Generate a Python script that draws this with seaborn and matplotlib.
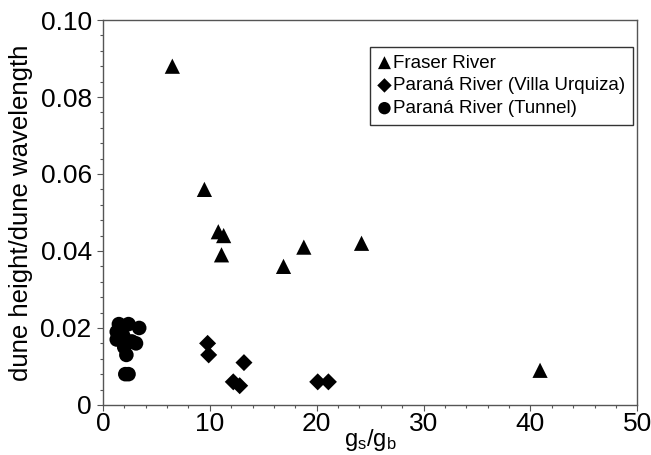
import numpy as np
import pandas as pd
import seaborn as sns
import matplotlib.pyplot as plt
import matplotlib.ticker as mticker

# values
fraser_x = [6.5, 9.5, 10.8, 11.3, 11.1, 16.9, 18.8, 24.2, 40.9]
fraser_y = [0.088, 0.056, 0.045, 0.044, 0.039, 0.036, 0.041, 0.042, 0.009]

villa_x = [9.8, 9.9, 13.2, 12.2, 12.8, 20.1, 21.1]
villa_y = [0.016, 0.013, 0.011, 0.006, 0.005, 0.006, 0.006]

tunnel_x = [1.5, 2.4, 3.4, 1.3, 1.9, 1.3, 2.7, 3.1, 2.0, 2.2, 2.1, 2.4]
tunnel_y = [0.021, 0.021, 0.020, 0.019, 0.018, 0.017, 0.0165, 0.016, 0.015, 0.013, 0.008, 0.008]

series_labels = ["Fraser River", "Paraná River (Villa Urquiza)", "Paraná River (Tunnel)"]

sns.set_style("ticks")
plt.rcParams['font.family'] = ['Liberation Sans', 'DejaVu Sans']
plt.rcParams['text.color'] = 'black'
plt.rcParams['axes.labelcolor'] = 'black'

fig = plt.figure(figsize=(6.51, 4.55), dpi=100)
ax = fig.add_axes([0.158, 0.110, 0.821, 0.846])

sns.scatterplot(x=fraser_x, y=fraser_y, marker="^", s=120, color="black",
                edgecolor="none", label=series_labels[0], ax=ax)
sns.scatterplot(x=villa_x, y=villa_y, marker="D", s=75, color="black",
                edgecolor="none", label=series_labels[1], ax=ax)
sns.scatterplot(x=tunnel_x, y=tunnel_y, marker="o", s=110, color="black",
                edgecolor="none", label=series_labels[2], ax=ax)

ax.set_xlim(0, 50)
ax.set_ylim(0, 0.10)
ax.xaxis.set_major_locator(mticker.MultipleLocator(10))
ax.xaxis.set_minor_locator(mticker.MultipleLocator(2))
ax.yaxis.set_major_locator(mticker.MultipleLocator(0.02))
ax.yaxis.set_minor_locator(mticker.MultipleLocator(0.004))
ax.yaxis.set_major_formatter(mticker.FuncFormatter(lambda v, p: "0" if v == 0 else f"{v:.2f}"))

ax.tick_params(which="major", length=4, width=0.8, labelsize=19, direction="out",
               color="#555555", labelcolor="black")
ax.tick_params(axis="y", which="major", pad=4)
ax.tick_params(axis="x", which="major", pad=1)
ax.tick_params(which="minor", length=2.5, width=0.8, direction="out", color="#555555")
for sp in ax.spines.values():
    sp.set_color("#555555")
    sp.set_linewidth(1.0)

ax.set_xlabel(r"$\mathregular{g_s/g_b}$", fontsize=17)
ax.xaxis.set_label_coords(0.5, -0.057, transform=ax.transAxes)
ax.xaxis.label.set_va("top")
ax.set_ylabel("dune height/dune wavelength", fontsize=18.5)
ax.yaxis.set_label_coords(-0.13, 0.5, transform=ax.transAxes)

leg = ax.legend(loc="upper right", bbox_to_anchor=(0.991, 0.930), borderaxespad=0,
                fontsize=13.5, frameon=True, fancybox=False, edgecolor="black",
                handletextpad=0.1, labelspacing=0.3, borderpad=0.4,
                handlelength=0.7, markerscale=0.85)
leg.get_frame().set_linewidth(1.0)

fig.savefig("out.png", dpi=100)
